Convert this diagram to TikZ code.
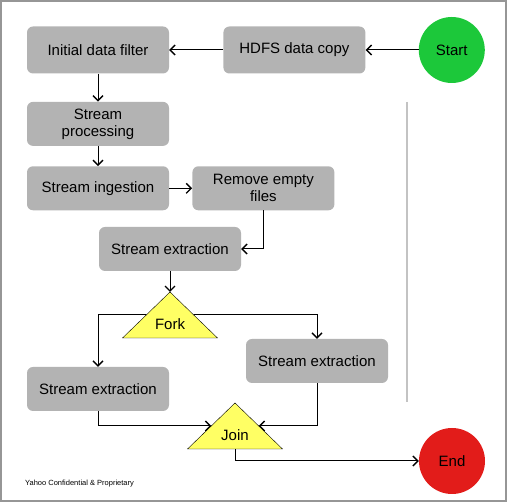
\documentclass[tikz,border=0pt]{standalone}
\usepackage{fontspec}
\setmainfont{Liberation Sans}
\usetikzlibrary{shapes.geometric, arrows.meta, positioning}
\definecolor{boxgray}{RGB}{179,179,179}
\definecolor{startgreen}{RGB}{28,200,58}
\definecolor{endred}{RGB}{226,28,26}
\definecolor{forkyellow}{RGB}{255,255,100}
\definecolor{framegray}{RGB}{150,150,150}
\definecolor{sepgray}{RGB}{195,195,195}

\begin{document}
\begin{tikzpicture}[x=1pt, y=-1pt,
    process/.style={rectangle, rounded corners=6pt, fill=boxgray, minimum width=142pt, minimum height=44pt, inner sep=2pt, align=center, font=\fontsize{15}{17}\selectfont},
    startstop/.style={circle, minimum size=66pt, inner sep=0pt, font=\fontsize{15}{17}\selectfont},
    forkjoin/.style={isosceles triangle, isosceles triangle apex angle=92, shape border rotate=90, isosceles triangle stretches, minimum width=95pt, minimum height=46pt, inner sep=1pt, outer sep=0pt, draw=black, fill=forkyellow, font=\fontsize{15}{17}\selectfont},
    arrow/.style={-{Straight Barb[length=5pt, width=10pt, line width=1.4pt]}, line width=1pt},
    node distance=20pt
]

\useasboundingbox (0,0) rectangle (507,502);
\draw[framegray, line width=2pt] (1,1) rectangle (506,501);
\draw[sepgray, line width=2pt] (407,102) -- (407,402);

\node[process, minimum height=47pt] (filter) at (98,50) {Initial data filter};
\node[process, minimum height=47pt, right=54pt of filter] (hdfs) {HDFS data copy};
\node[startstop, fill=startgreen, right=53pt of hdfs] (start) {Start};
\node[process, below=28pt of filter] (processing) {Stream\\processing};
\node[process, below=of processing] (ingestion) {Stream ingestion};
\node[process, right=23pt of ingestion] (remove) {Remove empty\\files};
\node[process] (extractA) at (170,249) {Stream extraction};
\node[forkjoin, anchor=apex] (fork) at (170,292) {Fork};

\node[process] (extractL) at (98,389) {Stream extraction};
\node[process] (extractR) at (317,361) {Stream extraction};
\node[forkjoin, anchor=apex] (join) at (235,403) {Join};
\node[startstop, fill=endred] (end) at (452,461) {End};
\node[anchor=west, inner sep=0pt, font=\fontsize{7.5}{9}\selectfont] (footer) at (25,484) {Yahoo Confidential \& Proprietary};

% Arrows
\draw[arrow] (start) -- (hdfs);
\draw[arrow] (hdfs) -- (filter);
\draw[arrow] (filter) -- (processing);
\draw[arrow] (processing) -- (ingestion);
\draw[arrow] (ingestion) -- (remove);
\draw[arrow] (remove) |- (extractA);
\draw[arrow] (extractA) -- (fork.apex);
\draw[arrow] (fork.left side) -| (extractL);
\draw[arrow] (fork.right side) -| (extractR);
\draw[arrow] (extractL) |- (join.left side);
\draw[arrow] (extractR) |- (join.right side);
\draw[arrow] (join.lower side) |- (end);

\end{tikzpicture}
\end{document}
